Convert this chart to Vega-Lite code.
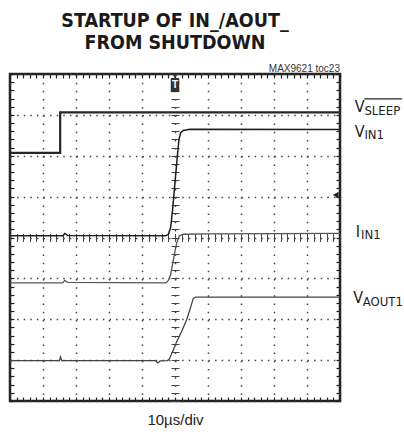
{
  "$schema": "https://vega.github.io/schema/vega-lite/v6.json",
  "width": 330,
  "height": 327,
  "autosize": "none",
  "padding": {"left": 10, "top": 74, "right": 64, "bottom": 31},
  "background": "white",
  "view": {"stroke": "#222", "strokeWidth": 2.5},
  "config": {"font": "DejaVu Sans Condensed, sans-serif"},
  "title": {
    "text": ["STARTUP OF IN_/AOUT_", "FROM SHUTDOWN"],
    "font": "DejaVu Sans Condensed, sans-serif",
    "fontSize": 19.5,
    "fontWeight": "bold",
    "color": "#1a1a1a",
    "anchor": "middle",
    "frame": "group",
    "lineHeight": 22,
    "offset": 10
  },
  "datasets": {
    "traces": [
      {"series": "VSLEEP", "i": 0, "t": 0, "v": 6.07},
      {"series": "VSLEEP", "i": 1, "t": 1.52, "v": 6.07},
      {"series": "VSLEEP", "i": 2, "t": 1.52, "v": 7.06},
      {"series": "VSLEEP", "i": 3, "t": 10, "v": 7.06},
      {"series": "VIN1", "i": 0, "t": 0, "v": 4.04},
      {"series": "VIN1", "i": 1, "t": 1.6, "v": 4.04},
      {"series": "VIN1", "i": 2, "t": 1.66, "v": 4.1},
      {"series": "VIN1", "i": 3, "t": 1.75, "v": 4.05},
      {"series": "VIN1", "i": 4, "t": 4.72, "v": 4.04},
      {"series": "VIN1", "i": 5, "t": 4.8, "v": 4.08},
      {"series": "VIN1", "i": 6, "t": 4.87, "v": 4.25},
      {"series": "VIN1", "i": 7, "t": 4.93, "v": 4.7},
      {"series": "VIN1", "i": 8, "t": 5.0, "v": 5.35},
      {"series": "VIN1", "i": 9, "t": 5.07, "v": 5.98},
      {"series": "VIN1", "i": 10, "t": 5.12, "v": 6.4},
      {"series": "VIN1", "i": 11, "t": 5.17, "v": 6.56},
      {"series": "VIN1", "i": 12, "t": 5.25, "v": 6.62},
      {"series": "VIN1", "i": 13, "t": 5.45, "v": 6.65},
      {"series": "VIN1", "i": 14, "t": 10, "v": 6.64},
      {"series": "IIN1", "i": 0, "t": 0, "v": 2.89},
      {"series": "IIN1", "i": 1, "t": 1.6, "v": 2.89},
      {"series": "IIN1", "i": 2, "t": 1.66, "v": 2.95},
      {"series": "IIN1", "i": 3, "t": 1.75, "v": 2.9},
      {"series": "IIN1", "i": 4, "t": 4.72, "v": 2.89},
      {"series": "IIN1", "i": 5, "t": 4.8, "v": 2.95},
      {"series": "IIN1", "i": 6, "t": 4.87, "v": 3.1},
      {"series": "IIN1", "i": 7, "t": 4.95, "v": 3.45},
      {"series": "IIN1", "i": 8, "t": 5.05, "v": 3.86},
      {"series": "IIN1", "i": 9, "t": 5.13, "v": 4.04},
      {"series": "IIN1", "i": 10, "t": 5.25, "v": 4.08},
      {"series": "IIN1", "i": 11, "t": 6, "v": 4.09},
      {"series": "IIN1", "i": 12, "t": 10, "v": 4.1},
      {"series": "VAOUT1", "i": 0, "t": 0, "v": 0.99},
      {"series": "VAOUT1", "i": 1, "t": 1.5, "v": 0.99},
      {"series": "VAOUT1", "i": 2, "t": 1.53, "v": 1.08},
      {"series": "VAOUT1", "i": 3, "t": 1.57, "v": 0.99},
      {"series": "VAOUT1", "i": 4, "t": 4.4, "v": 0.99},
      {"series": "VAOUT1", "i": 5, "t": 4.48, "v": 0.93},
      {"series": "VAOUT1", "i": 6, "t": 4.55, "v": 0.98},
      {"series": "VAOUT1", "i": 7, "t": 4.77, "v": 0.99},
      {"series": "VAOUT1", "i": 8, "t": 4.83, "v": 1.03},
      {"series": "VAOUT1", "i": 9, "t": 4.95, "v": 1.25},
      {"series": "VAOUT1", "i": 10, "t": 5.05, "v": 1.45},
      {"series": "VAOUT1", "i": 11, "t": 5.2, "v": 1.7},
      {"series": "VAOUT1", "i": 12, "t": 5.35, "v": 1.98},
      {"series": "VAOUT1", "i": 13, "t": 5.45, "v": 2.23},
      {"series": "VAOUT1", "i": 14, "t": 5.55, "v": 2.5},
      {"series": "VAOUT1", "i": 15, "t": 5.62, "v": 2.54},
      {"series": "VAOUT1", "i": 16, "t": 10, "v": 2.54}
    ],
    "labels": [
      {"main": "V", "sub": "SLEEP", "mx": 10.45, "my": 7.06, "sx": 10.74, "sy": 7.0, "ox2": 11.88, "oy": 7.39},
      {"main": "V", "sub": "IN1", "mx": 10.45, "my": 6.47, "sx": 10.74, "sy": 6.41},
      {"main": "I", "sub": "IN1", "mx": 10.48, "my": 4.02, "sx": 10.64, "sy": 3.96},
      {"main": "V", "sub": "AOUT1", "mx": 10.4, "my": 2.39, "sx": 10.69, "sy": 2.33}
    ],
    "markers": [
      {"kind": "trigger", "t": 5, "v": 7.73},
      {"kind": "trigtri", "t": 5, "v": 7.95},
      {"kind": "ground", "t": 9.87, "v": 5.04},
      {"kind": "note", "t": 10, "v": 8.06}
    ]
  },
  "layer": [
    {
      "data": {"name": "traces"},
      "transform": [{"filter": "datum.series === 'VSLEEP'"}],
      "mark": {"type": "line", "stroke": "#262626", "strokeWidth": 2.2},
      "encoding": {
        "x": {"field": "t", "type": "quantitative", "scale": {"domain": [0, 10], "nice": false, "zero": false},
          "axis": {"orient": "bottom", "tickCount": 50, "ticks": true, "tickSize": -4, "tickColor": "#222", "tickWidth": 1.2, "labels": false, "domain": false, "grid": false,
            "title": "10µs/div", "titleFont": "Liberation Sans, Arial, sans-serif", "titleFontSize": 15, "titleFontWeight": "normal", "titleColor": "#222", "titlePadding": 11}},
        "y": {"field": "v", "type": "quantitative", "scale": {"domain": [0, 8], "nice": false, "zero": false},
          "axis": {"orient": "left", "tickCount": 40, "ticks": true, "tickSize": -4, "tickColor": "#222", "tickWidth": 1.2, "labels": false, "domain": false, "grid": false, "title": null}},
        "order": {"field": "i", "type": "quantitative"}
      }
    },
    {
      "data": {"name": "traces"},
      "transform": [{"filter": "datum.series === 'VIN1'"}],
      "mark": {"type": "line", "stroke": "#1e1e1e", "strokeWidth": 1.5},
      "encoding": {
        "x": {"field": "t", "type": "quantitative", "scale": {"domain": [0, 10], "nice": false, "zero": false},
          "axis": {"orient": "top", "tickCount": 50, "ticks": true, "tickSize": -4, "tickColor": "#222", "tickWidth": 1.2, "labels": false, "domain": false, "grid": false, "title": null}},
        "y": {"field": "v", "type": "quantitative", "scale": {"domain": [0, 8], "nice": false, "zero": false},
          "axis": {"orient": "right", "tickCount": 40, "ticks": true, "tickSize": -4, "tickColor": "#222", "tickWidth": 1.2, "labels": false, "domain": false, "grid": false, "title": null}},
        "order": {"field": "i", "type": "quantitative"}
      }
    },
    {
      "data": {"name": "traces"},
      "transform": [{"filter": "datum.series === 'IIN1'"}],
      "mark": {"type": "line", "stroke": "#555555", "strokeWidth": 1.3},
      "encoding": {
        "x": {"field": "t", "type": "quantitative", "scale": {"domain": [0, 10], "nice": false, "zero": false},
          "axis": {"orient": "bottom", "tickCount": 10, "ticks": false, "labels": false, "domain": false, "grid": true, "gridColor": "#444", "gridWidth": 1.5, "gridDash": [1.5, 6.68], "gridOpacity": 1, "title": null}},
        "y": {"field": "v", "type": "quantitative", "scale": {"domain": [0, 8], "nice": false, "zero": false},
          "axis": {"orient": "left", "tickCount": 8, "ticks": false, "labels": false, "domain": false, "grid": true, "gridColor": "#444", "gridWidth": 1.5, "gridDash": [1.5, 5.1], "gridOpacity": 1, "title": null}},
        "order": {"field": "i", "type": "quantitative"}
      }
    },
    {
      "data": {"name": "traces"},
      "transform": [{"filter": "datum.series === 'VAOUT1'"}],
      "mark": {"type": "line", "stroke": "#444444", "strokeWidth": 1.3},
      "encoding": {
        "x": {"field": "t", "type": "quantitative", "scale": {"domain": [0, 10], "nice": false, "zero": false},
          "axis": {"orient": "bottom", "offset": -159.5, "tickCount": 50, "ticks": true, "tickSize": -8, "tickColor": "#444", "tickWidth": 1, "labels": false, "domain": false, "grid": false, "title": null}},
        "y": {"field": "v", "type": "quantitative", "scale": {"domain": [0, 8], "nice": false, "zero": false},
          "axis": {"orient": "left", "offset": -161, "tickCount": 40, "ticks": true, "tickSize": -8, "tickColor": "#444", "tickWidth": 1, "labels": false, "domain": false, "grid": false, "title": null}},
        "order": {"field": "i", "type": "quantitative"}
      }
    },
    {
      "data": {"name": "labels"},
      "mark": {"type": "text", "align": "left", "baseline": "alphabetic", "fontSize": 16, "color": "#222"},
      "encoding": {
        "x": {"field": "mx", "type": "quantitative", "scale": {"domain": [0, 10], "nice": false, "zero": false}, "axis": null},
        "y": {"field": "my", "type": "quantitative", "scale": {"domain": [0, 8], "nice": false, "zero": false}, "axis": null},
        "text": {"field": "main"}
      }
    },
    {
      "data": {"name": "labels"},
      "mark": {"type": "text", "align": "left", "baseline": "alphabetic", "fontSize": 13, "color": "#222"},
      "encoding": {
        "x": {"field": "sx", "type": "quantitative", "scale": {"domain": [0, 10], "nice": false, "zero": false}, "axis": null},
        "y": {"field": "sy", "type": "quantitative", "scale": {"domain": [0, 8], "nice": false, "zero": false}, "axis": null},
        "text": {"field": "sub"}
      }
    },
    {
      "data": {"name": "labels"},
      "transform": [{"filter": "datum.sub === 'SLEEP'"}],
      "mark": {"type": "rule", "stroke": "#222", "strokeWidth": 1.2},
      "encoding": {
        "x": {"field": "sx", "type": "quantitative", "scale": {"domain": [0, 10], "nice": false, "zero": false}, "axis": null},
        "x2": {"field": "ox2"},
        "y": {"field": "oy", "type": "quantitative", "scale": {"domain": [0, 8], "nice": false, "zero": false}, "axis": null}
      }
    },
    {
      "data": {"name": "markers"},
      "transform": [{"filter": "datum.kind === 'trigger'"}],
      "mark": {"type": "point", "shape": "M-0.6,-1H0.6V1H-0.6Z", "size": 200, "filled": true, "fill": "#333", "strokeWidth": 0, "opacity": 1},
      "encoding": {
        "x": {"field": "t", "type": "quantitative", "scale": {"domain": [0, 10], "nice": false, "zero": false}, "axis": null},
        "y": {"field": "v", "type": "quantitative", "scale": {"domain": [0, 8], "nice": false, "zero": false}, "axis": null}
      }
    },
    {
      "data": {"name": "markers"},
      "transform": [{"filter": "datum.kind === 'trigger'"}],
      "mark": {"type": "text", "text": "T", "font": "Liberation Sans, Arial, sans-serif", "fontSize": 10, "fontWeight": "bold", "color": "white", "align": "center", "baseline": "middle"},
      "encoding": {
        "x": {"field": "t", "type": "quantitative", "scale": {"domain": [0, 10], "nice": false, "zero": false}, "axis": null},
        "y": {"field": "v", "type": "quantitative", "scale": {"domain": [0, 8], "nice": false, "zero": false}, "axis": null}
      }
    },
    {
      "data": {"name": "markers"},
      "transform": [{"filter": "datum.kind === 'trigtri'"}],
      "mark": {"type": "point", "shape": "triangle-down", "size": 30, "filled": true, "fill": "#333", "opacity": 1},
      "encoding": {
        "x": {"field": "t", "type": "quantitative", "scale": {"domain": [0, 10], "nice": false, "zero": false}, "axis": null},
        "y": {"field": "v", "type": "quantitative", "scale": {"domain": [0, 8], "nice": false, "zero": false}, "axis": null}
      }
    },
    {
      "data": {"name": "markers"},
      "transform": [{"filter": "datum.kind === 'ground'"}],
      "mark": {"type": "point", "shape": "triangle-left", "size": 45, "filled": true, "fill": "#222", "opacity": 1},
      "encoding": {
        "x": {"field": "t", "type": "quantitative", "scale": {"domain": [0, 10], "nice": false, "zero": false}, "axis": null},
        "y": {"field": "v", "type": "quantitative", "scale": {"domain": [0, 8], "nice": false, "zero": false}, "axis": null}
      }
    },
    {
      "data": {"name": "markers"},
      "transform": [{"filter": "datum.kind === 'note'"}],
      "mark": {"type": "text", "text": "MAX9621 toc23", "font": "Liberation Sans, Arial, sans-serif", "fontSize": 10, "color": "#333", "align": "right", "baseline": "alphabetic"},
      "encoding": {
        "x": {"field": "t", "type": "quantitative", "scale": {"domain": [0, 10], "nice": false, "zero": false}, "axis": null},
        "y": {"field": "v", "type": "quantitative", "scale": {"domain": [0, 8], "nice": false, "zero": false}, "axis": null}
      }
    }
  ],
  "resolve": {"axis": {"x": "independent", "y": "independent"}}
}
